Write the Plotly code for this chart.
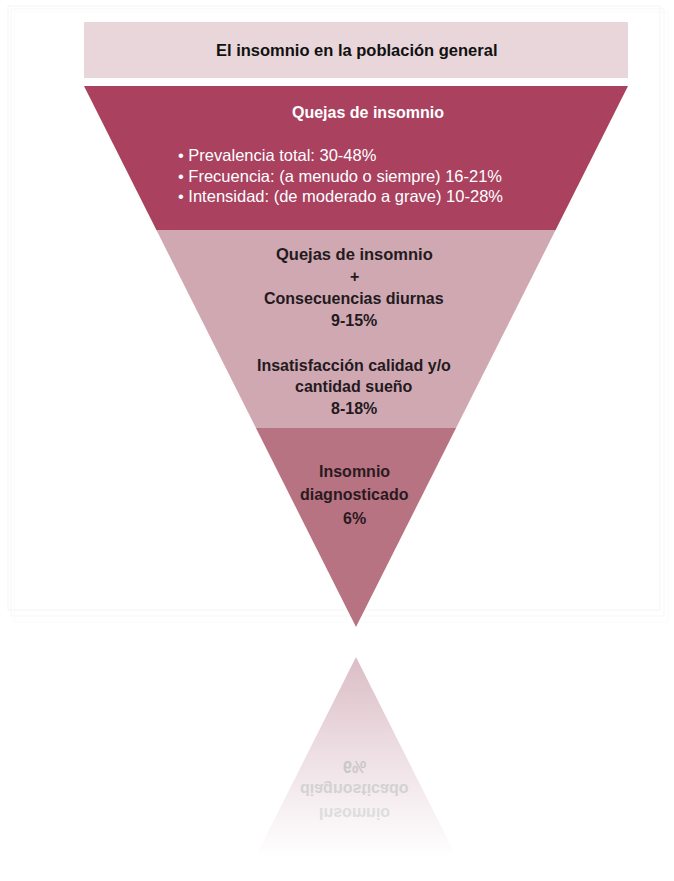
import plotly.graph_objects as go

# ---- content -------------------------------------------------------------
header_title = "El insomnio en la población general"

complaint_title = "Quejas de insomnio"
complaint_items = ["Prevalencia total:", "Frecuencia: (a menudo o siempre)", "Intensidad: (de moderado a grave)"]
complaint_ranges = ["30-48%", "16-21%", "10-28%"]

consequence_lines = ["Quejas de insomnio", "+", "Consecuencias diurnas", "9-15%"]
dissatisfaction_lines = ["Insatisfacción calidad y/o", "cantidad sueño", "8-18%"]
diagnosed_lines = ["Insomnio", "diagnosticado", "6%"]

# ---- layout constants ----------------------------------------------------
W, H = 674, 881
CX = 356                     # funnel centre line
TOP_Y, APEX_Y = 86, 627      # funnel top edge / apex
HALF_TOP = 272               # half width at the top edge
CUTS = [TOP_Y, 230, 428, APEX_Y]
FILLS = ["#a9415f", "#cfa8b2", "#b87383"]
MIRROR_Y = 642               # reflection axis below the apex

FONT = "Liberation Sans, Arial, Helvetica, sans-serif"


def half_width(y):
    return HALF_TOP * (APEX_Y - y) / (APEX_Y - TOP_Y)


fig = go.Figure()

# soft frame around the panel
for i, c in enumerate(["#f4f4f4", "#f7f7f7", "#fafafa"]):
    fig.add_shape(type="rect", x0=8 + i * 3, y0=6 + i * 3, x1=660 + i * 4, y1=610 + i * 6,
                  line=dict(color=c, width=1), fillcolor="rgba(0,0,0,0)", layer="below")

# header bar
fig.add_shape(type="rect", x0=84, y0=22, x1=628, y1=78, line=dict(width=0),
              fillcolor="#e8d6da", layer="below")

# funnel bands
for k in range(3):
    y0, y1 = CUTS[k], CUTS[k + 1]
    w0, w1 = half_width(y0), half_width(y1)
    xs = [CX - w0, CX + w0, CX + w1, CX - w1, CX - w0]
    ys = [y0, y0, y1, y1, y0]
    fig.add_trace(go.Scatter(x=xs, y=ys, mode="lines", fill="toself",
                             fillcolor=FILLS[k], line=dict(width=0),
                             hoverinfo="skip", showlegend=False))

# reflection of the last band, fading out downwards
r_top = 2 * MIRROR_Y - APEX_Y
r_bot = 2 * MIRROR_Y - CUTS[2]
wb = half_width(CUTS[2])
fig.add_trace(go.Scatter(
    x=[CX, CX + wb, CX - wb, CX], y=[r_top, r_bot, r_bot, r_top],
    mode="lines", fill="toself", line=dict(width=0),
    fillgradient=dict(type="vertical", start=r_top, stop=r_bot,
                      colorscale=[[0, "rgba(219,189,198,1)"], [0.5, "rgba(238,224,228,1)"],
                                  [1, "rgba(255,255,255,1)"]]),
    hoverinfo="skip", showlegend=False))


def label(x, y, text, size=15, color="#1e1e1e", bold=False, xanchor="center"):
    fig.add_annotation(x=x, y=y, text=f"<b>{text}</b>" if bold else text,
                       showarrow=False, xanchor=xanchor, yanchor="middle",
                       font=dict(family=FONT, size=size, color=color))


label(CX, 50, header_title, size=16.5, bold=True, color="#111111")

# band 1
label(CX + 12, 112, complaint_title, size=16, bold=True, color="#ffffff")
for i, (item, rng) in enumerate(zip(complaint_items, complaint_ranges)):
    label(176, 155 + i * 20.5, f"• {item} {rng}", size=16.5, color="#ffffff", xanchor="left")

# band 2
for i, t in enumerate(consequence_lines):
    label(CX - 2, 254 + i * 22, t, size=16.5 if i == 0 else 16, bold=True, color="#241a1e")
for i, t in enumerate(dissatisfaction_lines):
    label(CX - 2, 365 + i * 21.5, t, size=16, bold=True, color="#241a1e")

# band 3
for i, t in enumerate(diagnosed_lines):
    label(CX - 2, 471 + i * 23.5, t, size=16, bold=True, color="#2a1a20")

# mirrored caption inside the reflection
n_before = len(fig.layout.annotations)
refl_colors = ["#dddddd", "#d2d2d2", "#c8c8c8"]
for i, t in enumerate(diagnosed_lines):
    label(CX - 2, 2 * MIRROR_Y - (471 + i * 23.5), t, size=16, bold=True, color=refl_colors[i])
refl_idx = list(range(n_before, n_before + len(diagnosed_lines)))

fig.update_layout(
    width=W, height=H, margin=dict(l=0, r=0, t=0, b=0),
    paper_bgcolor="#ffffff", plot_bgcolor="#ffffff",
    xaxis=dict(range=[0, W], visible=False, fixedrange=True),
    yaxis=dict(range=[H, 0], visible=False, fixedrange=True),
    showlegend=False,
)

# flip the reflection captions upside down (vertical mirror about their centre)
flip_js = """
var gd = document.getElementById('{plot_id}');
var idx = %s;
idx.forEach(function(i){
  var g = gd.querySelector('g.annotation[data-index="' + i + '"]');
  if (!g) return;
  var t = g.querySelector('text.annotation-text');
  if (!t) return;
  var b = t.getBBox();
  var cy = b.y + b.height / 2;
  var prev = t.getAttribute('transform') || '';
  t.setAttribute('transform', 'translate(0,' + (2 * cy) + ') scale(1,-1) ' + prev);
});
""" % str(refl_idx)

fig.write_html("out.html", config={"displayModeBar": False, "staticPlot": True},
               post_script=flip_js)
